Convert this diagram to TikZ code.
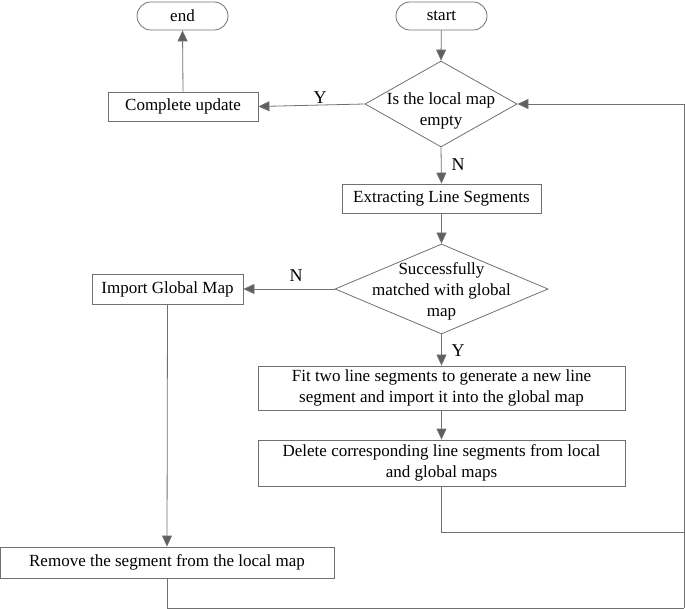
\documentclass[tikz,border=0pt]{standalone}
\usepackage{fontspec}
\setmainfont{Liberation Serif}
\usetikzlibrary{shapes.geometric,arrows.meta}
\definecolor{lc}{RGB}{112,112,112}
\definecolor{ac}{RGB}{95,95,95}
\begin{document}
\begin{tikzpicture}[x=1pt,y=-1pt,
  every node/.style={font=\fontsize{17}{21}\selectfont, text=black},
  box/.style={draw=lc, line width=0.8pt, rectangle, inner sep=0pt},
  dia/.style={draw=lc, line width=0.8pt, diamond, inner sep=0pt},
  lbl/.style={inner sep=0pt, align=center},
  yn/.style={inner sep=0pt, font=\fontsize{18}{21}\selectfont},
  conn/.style={draw=lc, line width=0.8pt},
  arr/.style={conn, -{Triangle[length=11pt,width=10pt,fill=ac]}}
]
\useasboundingbox (0,0) rectangle (685,609);
% terminals
\node[box, rounded corners=14pt, minimum width=91pt, minimum height=28pt] (end) at (182.5,16) {end};
\node[box, rounded corners=14pt, minimum width=91pt, minimum height=28pt] (start) at (441.5,16) {start};
% decision 1
\node[dia, minimum width=152pt, minimum height=86pt] (d1) at (441,104) {};
\node[lbl] (d1t) at (441,111) {Is the local map\\empty};
% complete update
\node[box, minimum width=150pt, minimum height=29pt] (cu) at (183,106.5) {Complete update};
% extracting
\node[box, minimum width=199pt, minimum height=29pt] (ex) at (441.5,198.5) {Extracting Line Segments};
% decision 2
\node[dia, minimum width=213pt, minimum height=90pt] (d2) at (441.5,289) {};
\node[lbl] (d2t) at (441.5,291) {Successfully\\matched with global\\map};
% import global map
\node[box, minimum width=151pt, minimum height=30pt] (ig) at (167.5,289) {Import Global Map};
% fit
\node[box, minimum width=367pt, minimum height=44pt, align=center] (fit) at (441.5,388) {Fit two line segments to generate a new line\\segment and import it into the global map};
% delete
\node[box, minimum width=367pt, minimum height=46pt, align=center] (del) at (441.5,463) {Delete corresponding line segments from local\\and global maps};
% remove
\node[box, minimum width=334pt, minimum height=31pt] (rm) at (167,562.5) {Remove the segment from the local map};
% labels
\node[yn] (ly1) at (320,98) {Y};
\node[yn] (ln1) at (458,165) {N};
\node[yn] (ln2) at (296,276) {N};
\node[yn] (ly2) at (458,351) {Y};
% corner coordinates
\coordinate (c1) at (441.5,532);
\coordinate (c2) at (684,532);
\coordinate (c3) at (684,104);
\coordinate (c4) at (167,608);
\coordinate (c5) at (684,608);
% connectors
\draw[arr] (start) -- (d1.north);
\draw[arr] (d1.west) -- (cu.east);
\draw[arr] (cu.north) -- (end.south);
\draw[arr] (d1.south) -- (ex.north);
\draw[arr] (ex.south) -- (d2.north);
\draw[arr] (d2.west) -- (ig.east);
\draw[arr] (d2.south) -- (fit.north);
\draw[arr] (fit.south) -- (del.north);
\draw[arr] (ig.south) -- (rm.north);
\draw[conn] (del.south) -- (c1) -- (c2);
\draw[arr] (c5) -- (c3) -- (d1.east);
\draw[conn] (rm.south) -- (c4) -- (c5);
\end{tikzpicture}
\end{document}
